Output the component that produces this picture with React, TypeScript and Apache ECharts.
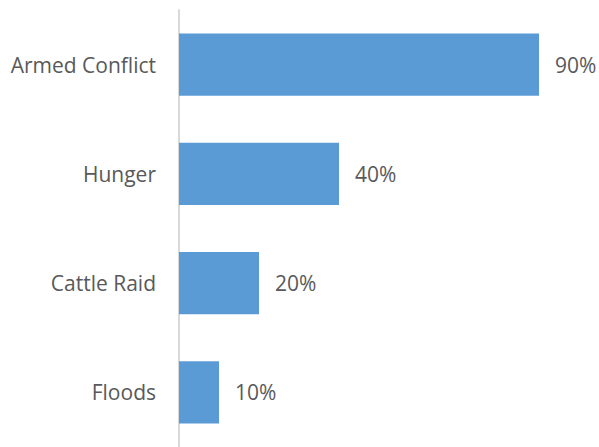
import React, { useEffect, useRef } from "react";
import * as echarts from "echarts";

const categories = ["Armed Conflict", "Hunger", "Cattle Raid", "Floods"];
const values = [90, 40, 20, 10];

export default function App() {
  const ref = useRef<HTMLDivElement>(null);
  useEffect(() => {
    document.body.style.margin = "0";
    const chart = echarts.init(ref.current!, null, { renderer: "svg" });
    chart.setOption({
      animation: false,
      grid: { left: 179, top: 10, width: 400, height: 441 },
      xAxis: {
        type: "value",
        min: 0,
        max: 100,
        show: false,
      },
      yAxis: {
        type: "category",
        data: categories,
        inverse: true,
        axisLine: { show: true, lineStyle: { color: "#d9d9d9", width: 2 } },
        axisTick: { show: false },
        axisLabel: {
          color: "#595959",
          fontFamily: "Open Sans",
          fontSize: 21,
          margin: 23,
        },
      },
      series: [
        {
          type: "bar",
          data: values,
          barCategoryGap: "43%",
          itemStyle: { color: "#5b9bd5" },
          label: {
            show: true,
            position: "right",
            distance: 16,
            formatter: "{c}%",
            color: "#595959",
            fontFamily: "Open Sans",
            fontSize: 21,
          },
        },
      ],
    });
    return () => chart.dispose();
  }, []);
  return <div ref={ref} style={{ width: 599, height: 447 }} />;
}
